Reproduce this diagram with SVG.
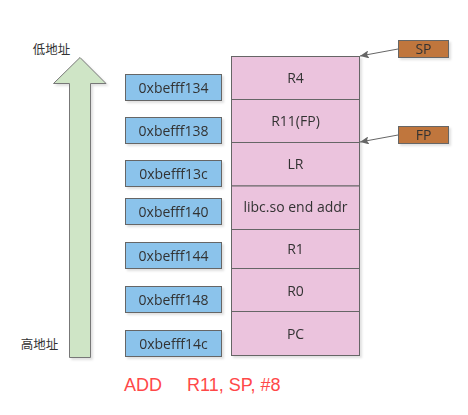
<svg xmlns="http://www.w3.org/2000/svg" width="468" height="415" viewBox="0 0 468 415">
<style>
.addr{fill:#8bc3eb;stroke:#666;stroke-width:1}
.stk{fill:#ebc3dd;stroke:#666;stroke-width:1}
.reg{fill:#c0763d;stroke:#666;stroke-width:1}
text{font-family:"Open Sans","Noto Sans","Noto Sans CJK SC",sans-serif;font-size:14px;fill:#333;text-anchor:middle}
.cjk{font-family:"Noto Sans CJK SC",sans-serif;font-size:12.5px}
.red{font-family:"Liberation Sans",Arial,sans-serif;font-size:18px;fill:#ff4848;text-anchor:start}
.conn{stroke:#666;stroke-width:1;fill:none;marker-end:url(#ah)}
</style>
<defs>
<marker id="ah" markerWidth="10" markerHeight="8" refX="9" refY="4" orient="auto" markerUnits="userSpaceOnUse">
<path d="M0,0 L9,4 L0,8 L2,4 Z" fill="#666"/>
</marker>
<filter id="sh" x="-10%" y="-10%" width="130%" height="130%">
<feDropShadow dx="2" dy="2" stdDeviation="1" flood-color="#000" flood-opacity="0.12"/>
</filter>
</defs>
<rect width="468" height="415" fill="#fff"/>
<g id="arrow" filter="url(#sh)">
<path d="M80,57.5 L106,83.5 L90.5,83.5 L90.5,357.5 L69.5,357.5 L69.5,83.5 L53.5,83.5 Z" fill="#cfe5c6" stroke="#777" stroke-width="1"/>
</g>
<g id="label-low"><text class="cjk" x="51.5" y="54">低地址</text></g>
<g id="label-high"><text class="cjk" x="39.5" y="349">高地址</text></g>
<g id="stack" filter="url(#sh)">
<g id="s-r4"><rect class="stk" x="231.5" y="56.5" width="128" height="43"/><text x="295.5" y="83">R4</text></g>
<g id="s-r11"><rect class="stk" x="231.5" y="99.5" width="128" height="43"/><text x="295.5" y="126">R11(FP)</text></g>
<g id="s-lr"><rect class="stk" x="231.5" y="142.5" width="128" height="43.5"/><text x="295.5" y="169">LR</text></g>
<g id="s-libc"><rect class="stk" x="231.5" y="186" width="128" height="43.5"/><text x="295.5" y="212">libc.so end addr</text></g>
<g id="s-r1"><rect class="stk" x="231.5" y="229.5" width="128" height="39"/><text x="295.5" y="254">R1</text></g>
<g id="s-r0"><rect class="stk" x="231.5" y="268.5" width="128" height="43"/><text x="295.5" y="296">R0</text></g>
<g id="s-pc"><rect class="stk" x="231.5" y="311.5" width="128" height="44"/><text x="295.5" y="339">PC</text></g>
</g>
<g id="addrs" filter="url(#sh)">
<g id="a134"><rect class="addr" x="125.5" y="74.5" width="96" height="26"/><text x="173.5" y="93">0xbefff134</text></g>
<g id="a138"><rect class="addr" x="125.5" y="117.5" width="96" height="26"/><text x="173.5" y="136">0xbefff138</text></g>
<g id="a13c"><rect class="addr" x="125.5" y="160.5" width="96" height="26"/><text x="173.5" y="179">0xbefff13c</text></g>
<g id="a140"><rect class="addr" x="125.5" y="198.5" width="96" height="26"/><text x="173.5" y="217">0xbefff140</text></g>
<g id="a144"><rect class="addr" x="125.5" y="242.5" width="96" height="26"/><text x="173.5" y="261">0xbefff144</text></g>
<g id="a148"><rect class="addr" x="125.5" y="286.5" width="96" height="26"/><text x="173.5" y="305">0xbefff148</text></g>
<g id="a14c"><rect class="addr" x="125.5" y="330.5" width="96" height="26"/><text x="173.5" y="349">0xbefff14c</text></g>
</g>
<g id="sp" filter="url(#sh)"><rect class="reg" x="398.5" y="40.5" width="50" height="17"/><text x="423.5" y="54">SP</text></g>
<g id="fp" filter="url(#sh)"><rect class="reg" x="398.5" y="126.5" width="50" height="17"/><text x="423.5" y="140">FP</text></g>
<g id="connectors">
<line class="conn" x1="398" y1="49" x2="360" y2="56"/>
<line class="conn" x1="398" y1="135" x2="360" y2="142"/>
</g>
<g id="code"><text class="red" x="124" y="391">ADD</text><text class="red" x="187" y="391">R11, SP, #8</text></g>
</svg>
